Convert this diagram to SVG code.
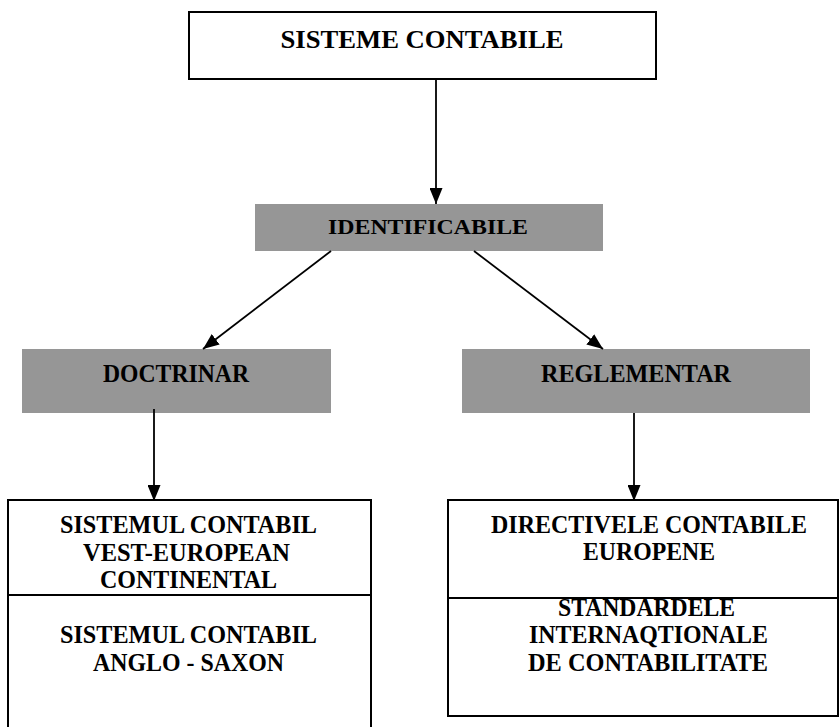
<svg xmlns="http://www.w3.org/2000/svg" width="839" height="727" viewBox="0 0 839 727">
  <style>
    .box { fill: #ffffff; stroke: #000000; stroke-width: 2; }
    .grey { fill: #969696; stroke: none; }
    .div { stroke: #000000; stroke-width: 2; }
    .conn { stroke: #000000; stroke-width: 1.8; fill: none; marker-end: url(#arrow); }
    text { font-family: "Liberation Serif", "Times New Roman", serif; font-weight: bold; fill: #000000; text-anchor: middle; }
    .t25 { font-size: 25px; }
  </style>
  <defs>
    <marker id="arrow" markerUnits="userSpaceOnUse" markerWidth="16" markerHeight="13" refX="16" refY="6.5" orient="auto">
      <path d="M0,0 L16,6.5 L0,13 z" fill="#000000"/>
    </marker>
    <clipPath id="lowerCell">
      <rect x="448" y="599" width="391" height="120"/>
    </clipPath>
  </defs>

  <rect width="839" height="727" fill="#ffffff"/>

  <!-- root -->
  <g id="sisteme-contabile">
    <rect class="box" x="189" y="12" width="467" height="67"/>
    <text x="422" y="48" font-size="26" textLength="283" lengthAdjust="spacingAndGlyphs">SISTEME CONTABILE</text>
  </g>

  <!-- second level -->
  <g id="identificabile">
    <rect class="grey" x="255" y="204" width="348" height="47"/>
    <text x="428" y="234" font-size="22" textLength="200" lengthAdjust="spacingAndGlyphs">IDENTIFICABILE</text>
  </g>

  <!-- third level -->
  <g id="doctrinar">
    <rect class="grey" x="22" y="349" width="309" height="64"/>
    <text x="176" y="382" font-size="26" textLength="146" lengthAdjust="spacingAndGlyphs">DOCTRINAR</text>
  </g>
  <g id="reglementar">
    <rect class="grey" x="462" y="349" width="348" height="64"/>
    <text x="636" y="382" font-size="25" textLength="190" lengthAdjust="spacingAndGlyphs">REGLEMENTAR</text>
  </g>

  <!-- leaf: doctrinal systems -->
  <g id="sisteme-doctrinare">
    <rect class="box" x="8" y="500" width="363" height="240"/>
    <line class="div" x1="8" y1="595" x2="371" y2="595"/>
    <text class="t25" x="188.5" y="533" textLength="257" lengthAdjust="spacingAndGlyphs">SISTEMUL CONTABIL</text>
    <text class="t25" x="186.5" y="561" textLength="207" lengthAdjust="spacingAndGlyphs">VEST-EUROPEAN</text>
    <text class="t25" x="188.5" y="588" textLength="177" lengthAdjust="spacingAndGlyphs">CONTINENTAL</text>
    <text class="t25" x="188.5" y="643" textLength="257" lengthAdjust="spacingAndGlyphs">SISTEMUL CONTABIL</text>
    <text class="t25" x="188.5" y="671" textLength="191" lengthAdjust="spacingAndGlyphs">ANGLO - SAXON</text>
  </g>

  <!-- leaf: regulated systems -->
  <g id="sisteme-reglementate">
    <rect class="box" x="448" y="500" width="390" height="216"/>
    <line class="div" x1="448" y1="598" x2="838" y2="598"/>
    <text class="t25" x="649" y="533" textLength="316" lengthAdjust="spacingAndGlyphs">DIRECTIVELE CONTABILE</text>
    <text class="t25" x="649" y="560" textLength="132" lengthAdjust="spacingAndGlyphs">EUROPENE</text>
    <text class="t25" x="646.5" y="616" textLength="177" lengthAdjust="spacingAndGlyphs" clip-path="url(#lowerCell)">STANDARDELE</text>
    <text class="t25" x="648.5" y="643" textLength="239" lengthAdjust="spacingAndGlyphs">INTERNAQTIONALE</text>
    <text class="t25" x="648" y="671" textLength="240" lengthAdjust="spacingAndGlyphs">DE CONTABILITATE</text>
  </g>

  <!-- connectors -->
  <g id="connectors">
    <line class="conn" x1="436" y1="79" x2="436" y2="204"/>
    <line class="conn" x1="331" y1="251" x2="203" y2="349"/>
    <line class="conn" x1="474" y1="251" x2="603" y2="349"/>
    <line class="conn" x1="154" y1="409" x2="154" y2="501"/>
    <line class="conn" x1="634" y1="413" x2="634" y2="501"/>
  </g>
</svg>
